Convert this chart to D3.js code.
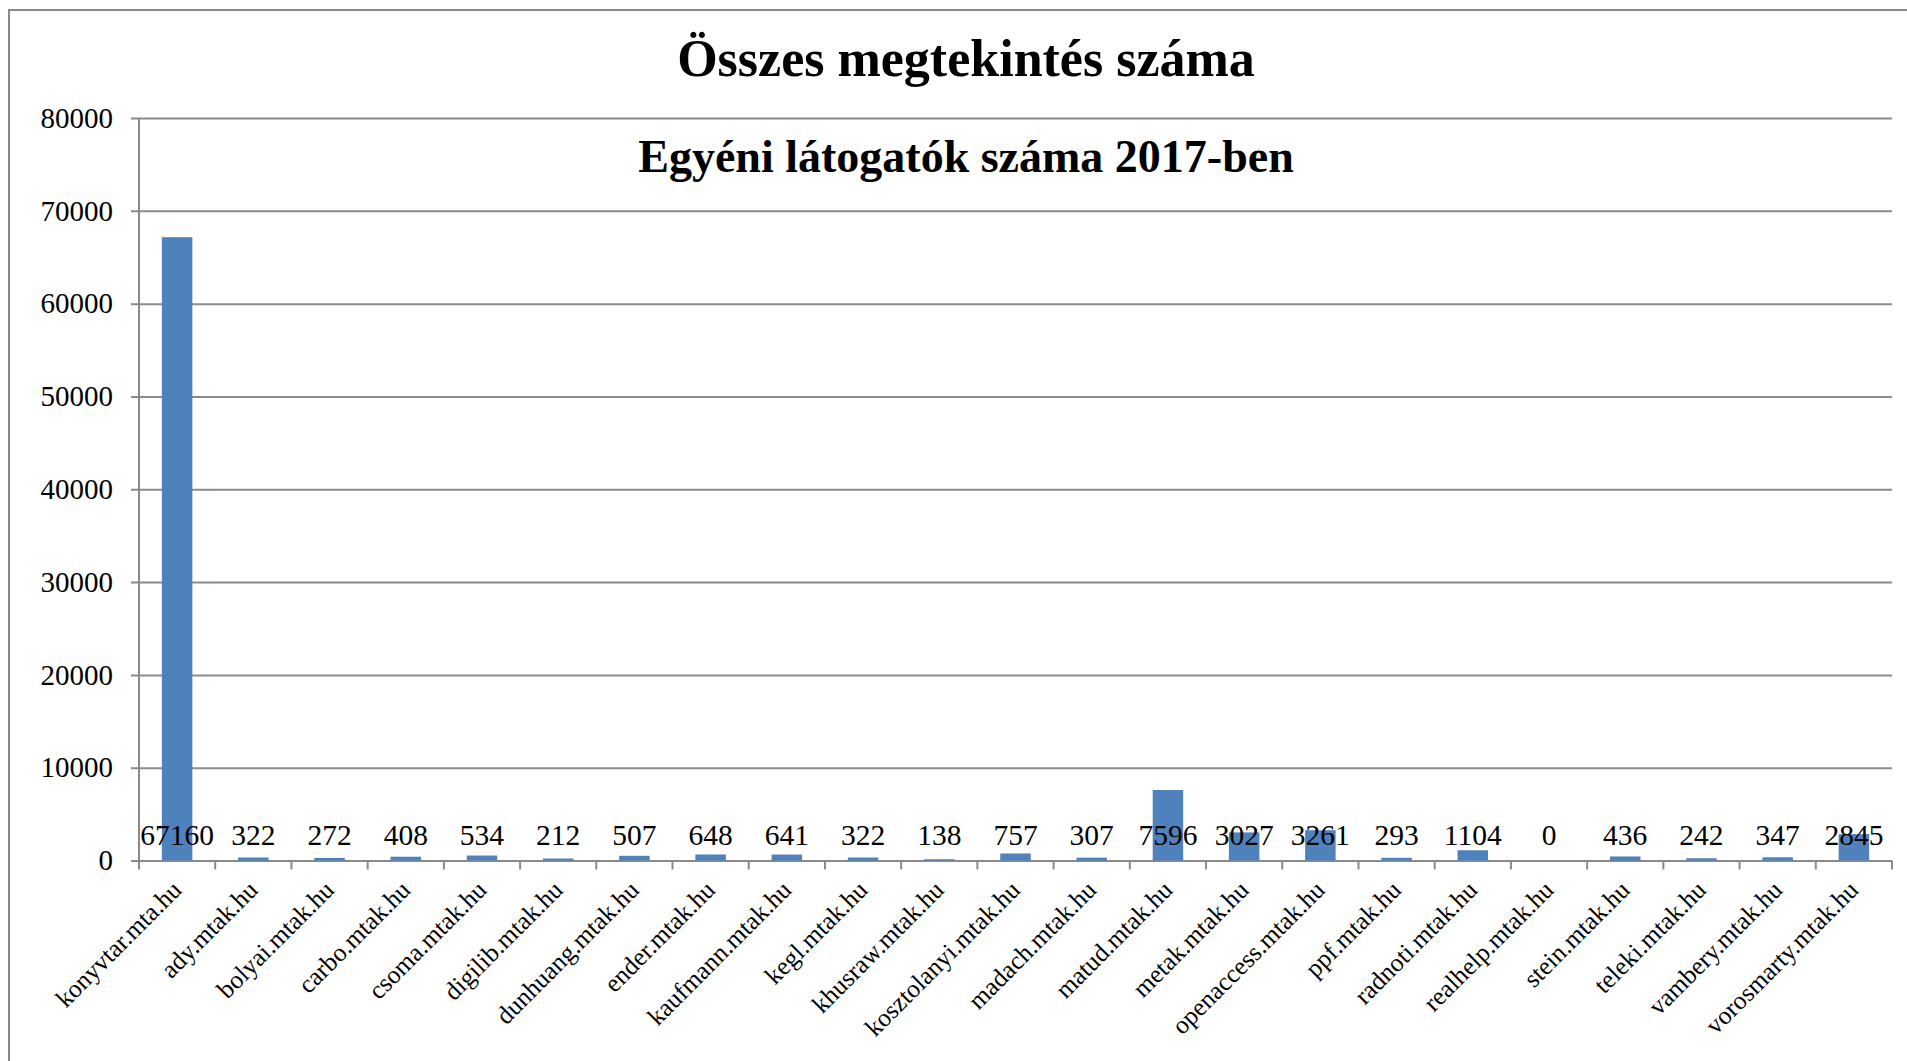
<!DOCTYPE html>
<html>
<head>
<meta charset="utf-8">
<script src="https://cdn.jsdelivr.net/npm/d3@7"></script>
<style>
  body { margin: 0; background: #fff; }
  svg { display: block; }
  text { font-family: "Liberation Serif", "DejaVu Serif", serif; fill: #000; }
</style>
</head>
<body>
<div id="chart"></div>
<script>
// site names
var sites = ["konyvtar.mta.hu", "ady.mtak.hu", "bolyai.mtak.hu", "carbo.mtak.hu", "csoma.mtak.hu",
  "digilib.mtak.hu", "dunhuang.mtak.hu", "ender.mtak.hu", "kaufmann.mtak.hu", "kegl.mtak.hu",
  "khusraw.mtak.hu", "kosztolanyi.mtak.hu", "madach.mtak.hu", "matud.mtak.hu", "metak.mtak.hu",
  "openaccess.mtak.hu", "ppf.mtak.hu", "radnoti.mtak.hu", "realhelp.mtak.hu", "stein.mtak.hu",
  "teleki.mtak.hu", "vambery.mtak.hu", "vorosmarty.mtak.hu"];
// egyéni látogatók 2017
var visitors = [67160, 322, 272, 408, 534, 212, 507, 648, 641, 322, 138, 757, 307, 7596, 3027,
  3261, 293, 1104, 0, 436, 242, 347, 2845];
var yTicks = [0, 10000, 20000, 30000, 40000, 50000, 60000, 70000, 80000];
var title = "Összes megtekintés száma";
var subtitle = "Egyéni látogatók száma 2017-ben";

var W = 1907, H = 1061;
var margin = {top: 118, right: 15, bottom: 200, left: 139};
var width = W - margin.left - margin.right,
    height = H - margin.top - margin.bottom - 0.5;

var data = sites.map(function(s, i) { return {site: s, value: visitors[i]}; });

var svg = d3.select("#chart").append("svg")
    .attr("width", W)
    .attr("height", H);

// chart frame (cut by the window on the right and bottom)
svg.append("rect")
    .attr("x", 9).attr("y", 10)
    .attr("width", W + 20).attr("height", H + 20)
    .attr("fill", "none")
    .attr("stroke", "#888")
    .attr("stroke-width", 2);

var g = svg.append("g")
    .attr("transform", "translate(" + margin.left + "," + margin.top + ")");

var x = d3.scaleBand()
    .domain(sites)
    .range([0, width])
    .paddingInner(0.6)
    .paddingOuter(0.3);

var y = d3.scaleLinear()
    .domain([0, 80000])
    .range([height, 0]);

// gridlines + y axis
var yAxis = g.append("g")
    .call(d3.axisLeft(y).tickValues(yTicks).tickFormat(d3.format("d"))
      .tickSize(-width).tickSizeOuter(0).tickPadding(26));
yAxis.select(".domain").remove();
yAxis.selectAll(".tick line")
    .attr("x1", -8)
    .attr("stroke", "#8a8a8a")
    .attr("stroke-width", 2);
yAxis.selectAll(".tick text")
    .style("font-size", "29px")
    .style("font-family", "Liberation Serif");

g.append("line")
    .attr("x1", 0).attr("x2", 0)
    .attr("y1", 0).attr("y2", height)
    .attr("stroke", "#8a8a8a")
    .attr("stroke-width", 2);

// x ticks at category boundaries
var bounds = d3.range(sites.length + 1).map(function(i) { return i * width / sites.length; });
g.selectAll(".xtick")
    .data(bounds)
    .enter()
    .append("line")
    .attr("x1", function(d) { return d; })
    .attr("x2", function(d) { return d; })
    .attr("y1", height)
    .attr("y2", height + 9)
    .attr("stroke", "#8a8a8a")
    .attr("stroke-width", 2);

// bars
g.selectAll(".bar")
    .data(data)
    .enter()
    .append("rect")
    .attr("x", function(d) { return x(d.site); })
    .attr("y", function(d) { return y(d.value); })
    .attr("width", x.bandwidth())
    .attr("height", function(d) { return height - y(d.value); })
    .attr("fill", "#4f81bd");

// value labels sit just above the base line
g.selectAll(".vlabel")
    .data(data)
    .enter()
    .append("text")
    .attr("x", function(d) { return x(d.site) + x.bandwidth() / 2; })
    .attr("y", height - 16)
    .attr("text-anchor", "middle")
    .style("font-size", "29.5px")
    .text(function(d) { return d.value; });

// category labels, rotated
g.selectAll(".xlabel")
    .data(data)
    .enter()
    .append("text")
    .attr("text-anchor", "end")
    .attr("transform", function(d) {
      var cx = x(d.site) + x.bandwidth() / 2 + 6;
      return "translate(" + cx + "," + (height + 31) + ") rotate(-45)";
    })
    .style("font-size", "25.5px")
    .text(function(d) { return d.site; });

// titles
svg.append("text")
    .attr("x", 966).attr("y", 76)
    .attr("text-anchor", "middle")
    .style("font-size", "52px")
    .style("font-weight", "bold")
    .text(title);

svg.append("text")
    .attr("x", 966).attr("y", 172)
    .attr("text-anchor", "middle")
    .style("font-size", "46px")
    .style("font-weight", "bold")
    .text(subtitle);
</script>
</body>
</html>
